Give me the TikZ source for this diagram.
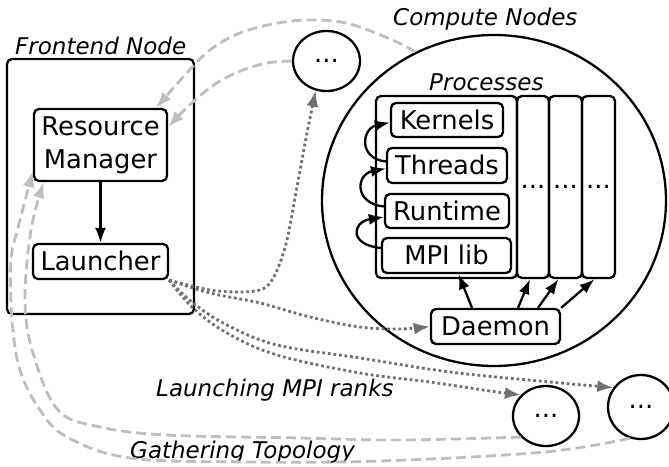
\documentclass[tikz,border=0pt]{standalone}
\usepackage{fontspec}
\setmainfont{DejaVu Sans}
\usetikzlibrary{shapes.geometric,arrows.meta}
\definecolor{dashgray}{RGB}{190,190,190}
\definecolor{dotgray}{RGB}{112,112,112}
\begin{document}
\begin{tikzpicture}[x=1pt,y=-1pt,
  font=\fontsize{25.8}{33}\selectfont,
  rbox/.style={draw, line width=2.3pt, rounded corners=5pt, inner sep=0pt, align=center},
  lbox/.style={rbox, text height=18.8pt, text depth=0pt},
  circ/.style={ellipse, draw, line width=2.3pt, inner sep=0pt},
  ital/.style={font=\fontsize{23}{28}\selectfont\itshape, inner sep=0pt, anchor=base west},
  dashline/.style={draw=dashgray, line width=2.8pt, dash pattern=on 10pt off 5pt, -{Latex[length=16pt,width=12pt]}},
  dotline/.style={draw=dotgray, line width=2.8pt, dash pattern=on 2.8pt off 2.8pt, -{Latex[length=16pt,width=12pt]}},
  blk/.style={line width=2.3pt, -{Latex[length=15pt,width=11pt]}}]
\useasboundingbox (0,0) rectangle (669,466);

% labels
\node[ital] (lfront) at (15,54) {Frontend Node};
\node[ital] (lcomp) at (393,25) {Compute Nodes};
\node[ital] (lproc) at (429,90) {Processes};
\node[ital] (llaunch) at (156,396) {Launching MPI ranks};
\node[ital] (lgather) at (130,458) {Gathering Topology};

% frontend
\node[rbox, minimum width=187pt, minimum height=255pt] (front) at (100.5,186.5) {};
\node[rbox, minimum width=133pt, minimum height=72pt] (rm) at (100.5,145) {Resource\\Manager};
\node[lbox, minimum width=135pt, minimum height=35pt] (launcher) at (100.5,261.5) {Launcher};

% compute nodes
\node[circ, minimum width=344pt, minimum height=331pt] (bc) at (494,200.5) {};
\node[circ, minimum width=67pt, minimum height=60pt] (tc) at (326.5,61) {...};
\node[circ, minimum width=66pt, minimum height=60pt] (mc) at (546,416) {...};
\node[circ, minimum width=66pt, minimum height=64pt] (rc) at (641,407) {...};

\node[rbox, minimum width=141pt, minimum height=182pt] (proc) at (446.5,187) {};
\node[rbox, minimum width=32pt, minimum height=182pt] (col2) at (533,187) {...};
\node[rbox, minimum width=33pt, minimum height=182pt] (col3) at (565.5,187) {...};
\node[rbox, minimum width=33pt, minimum height=182pt] (col4) at (598.5,187) {...};

\node[lbox, minimum width=112pt, minimum height=34pt] (kern) at (447,120) {Kernels};
\node[lbox, minimum width=120pt, minimum height=35pt] (thr) at (447,165.5) {Threads};
\node[lbox, minimum width=124pt, minimum height=34pt] (run) at (447,211) {Runtime};
\node[lbox, minimum width=129pt, minimum height=35pt] (mpi) at (446.5,255.5) {MPI lib};
\node[lbox, minimum width=129pt, minimum height=35pt] (daemon) at (495.5,326.5) {Daemon};

% black arrows
\draw[blk] (rm.south) -- (launcher.north);
\draw[blk] ([yshift=4pt]thr.west) .. controls +(-28,-3) and +(-28,6) .. ([yshift=-2.5pt]kern.west);
\draw[blk] ([yshift=4.5pt]run.west) .. controls +(-30,-3) and +(-30,6) .. ([yshift=-3pt]thr.west);
\draw[blk] ([yshift=7.5pt]mpi.west) .. controls +(-32,-3) and +(-32,5) .. ([yshift=-6pt]run.west);
\draw[blk] ([xshift=-23.5pt]daemon.north) -- ([xshift=12pt]mpi.south);
\draw[blk] ([xshift=22.5pt]daemon.north) -- ([xshift=-3pt]col2.south);
\draw[blk] ([xshift=42.5pt]daemon.north) -- ([xshift=-7pt]col3.south);
\draw[blk] (daemon.north east) -- ([xshift=-4pt]col4.south);

% dashed gray (gathering topology)
\draw[dashline] plot[smooth, tension=0.6] coordinates {(bc.118) (397,42) (350,24) (313,20) (278,23) (240,33) (210,50) (185,75) ([xshift=-12pt]rm.north east)};
\draw[dashline] plot[smooth, tension=0.6] coordinates {(tc.west) (262,64) (225,78) (195,100) ([yshift=18pt]rm.east)};
\draw[dashline] plot[smooth, tension=0.6] coordinates {(mc.220) (400,440) (300,438) (167,435) (100,427) (58,410) (33,353) (25,300) (31,230) ([xshift=11pt]rm.south west)};
\draw[dashline] plot[smooth, tension=0.6] coordinates {(rc.250) (545,452) (380,461) (250,462) (130,458) (67,437) (40,410) (20,370) (12,320) (11,260) (18,228) ([yshift=11pt]rm.south west)};

% dotted gray (launching)
\draw[dotline] plot[smooth, tension=0.55] coordinates {(launcher.south east) (210,290) (240,292) (260,290) (270,283) (278,268) (287,240) (297,187) (307,133) (tc.250)};
\draw[dotline] plot[smooth, tension=0.6] coordinates {(launcher.south east) (210,293) (260,303) (310,317) (360,327) (400,329) (daemon.west)};
\draw[dotline] plot[smooth, tension=0.6] coordinates {(launcher.south east) (193,303) (227,325) (277,345) (360,358) (450,372) (550,382) (rc.145)};
\draw[dotline] plot[smooth, tension=0.6] coordinates {(launcher.south east) (193,308) (227,333) (277,355) (360,373) (430,382) (490,391) (mc.140)};
\end{tikzpicture}
\end{document}
